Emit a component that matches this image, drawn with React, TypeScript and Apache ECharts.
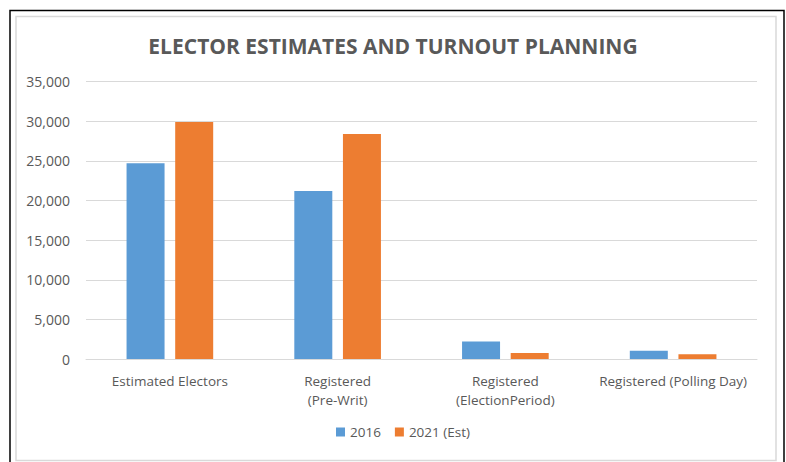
import React, { useEffect, useRef } from "react";
import * as echarts from "echarts";

const categories = [
  "Estimated Electors",
  "Registered\n(Pre-Writ)",
  "Registered\n(ElectionPeriod)",
  "Registered (Polling Day)",
];
const series2016 = [24700, 21200, 2200, 1050];
const series2021 = [29900, 28400, 750, 590];
const seriesNames = ["2016", "2021 (Est)"];

const FONT = "'Open Sans', 'Noto Sans', sans-serif";
const TEXT = "#595959";

export default function App() {
  const ref = useRef<HTMLDivElement>(null);
  useEffect(() => {
    if (!ref.current) return;
    const chart = echarts.init(ref.current, undefined, { renderer: "svg" });
    chart.setOption({
      animation: false,
      backgroundColor: "#ffffff",
      title: {
        text: "ELECTOR ESTIMATES AND TURNOUT PLANNING",
        left: "center",
        top: 30,
        textStyle: {
          fontFamily: FONT,
          fontWeight: "bold",
          fontSize: 21,
          color: TEXT,
        },
      },
      graphic: [
        {
          type: "rect",
          shape: { x: 10, y: 10.5, width: 774, height: 460 },
          style: { fill: "none", stroke: "#000000", lineWidth: 1.5 },
          silent: true,
        },
        {
          type: "rect",
          shape: { x: 16, y: 16.5, width: 760, height: 444 },
          style: { fill: "none", stroke: "#d9d9d9", lineWidth: 1.5 },
          silent: true,
        },
      ],
      legend: {
        data: seriesNames,
        bottom: 23,
        left: 336,
        padding: 0,
        icon: "rect",
        itemWidth: 9,
        itemHeight: 9,
        itemGap: 14,
        textStyle: { fontFamily: FONT, fontSize: 13.5, color: TEXT },
      },
      grid: {
        left: 86,
        right: 29,
        top: 81.7,
        bottom: 103,
        containLabel: false,
      },
      xAxis: {
        type: "category",
        data: categories,
        axisLine: { show: true, lineStyle: { color: "#d9d9d9", width: 1 } },
        axisTick: { show: false },
        axisLabel: {
          fontFamily: FONT,
          fontSize: 13.5,
          color: TEXT,
          margin: 12,
          lineHeight: 19,
          interval: 0,
        },
      },
      yAxis: {
        type: "value",
        min: 0,
        max: 35000,
        interval: 5000,
        axisLine: { show: false },
        axisTick: { show: false },
        splitLine: { lineStyle: { color: "#d9d9d9", width: 1 } },
        axisLabel: {
          fontFamily: FONT,
          fontSize: 14,
          color: TEXT,
          margin: 16,
          formatter: (v: number) => v.toLocaleString("en-US"),
        },
      },
      series: [
        {
          name: seriesNames[0],
          type: "bar",
          data: series2016,
          barWidth: 38,
          barGap: "28%",
          itemStyle: { color: "#5b9bd5" },
        },
        {
          name: seriesNames[1],
          type: "bar",
          data: series2021,
          barWidth: 38,
          barGap: "28%",
          itemStyle: { color: "#ed7d31" },
        },
      ],
    });
    return () => chart.dispose();
  }, []);
  return (
    <div
      ref={ref}
      style={{ position: "absolute", left: 0, top: 0, width: 786, height: 462 }}
    />
  );
}
